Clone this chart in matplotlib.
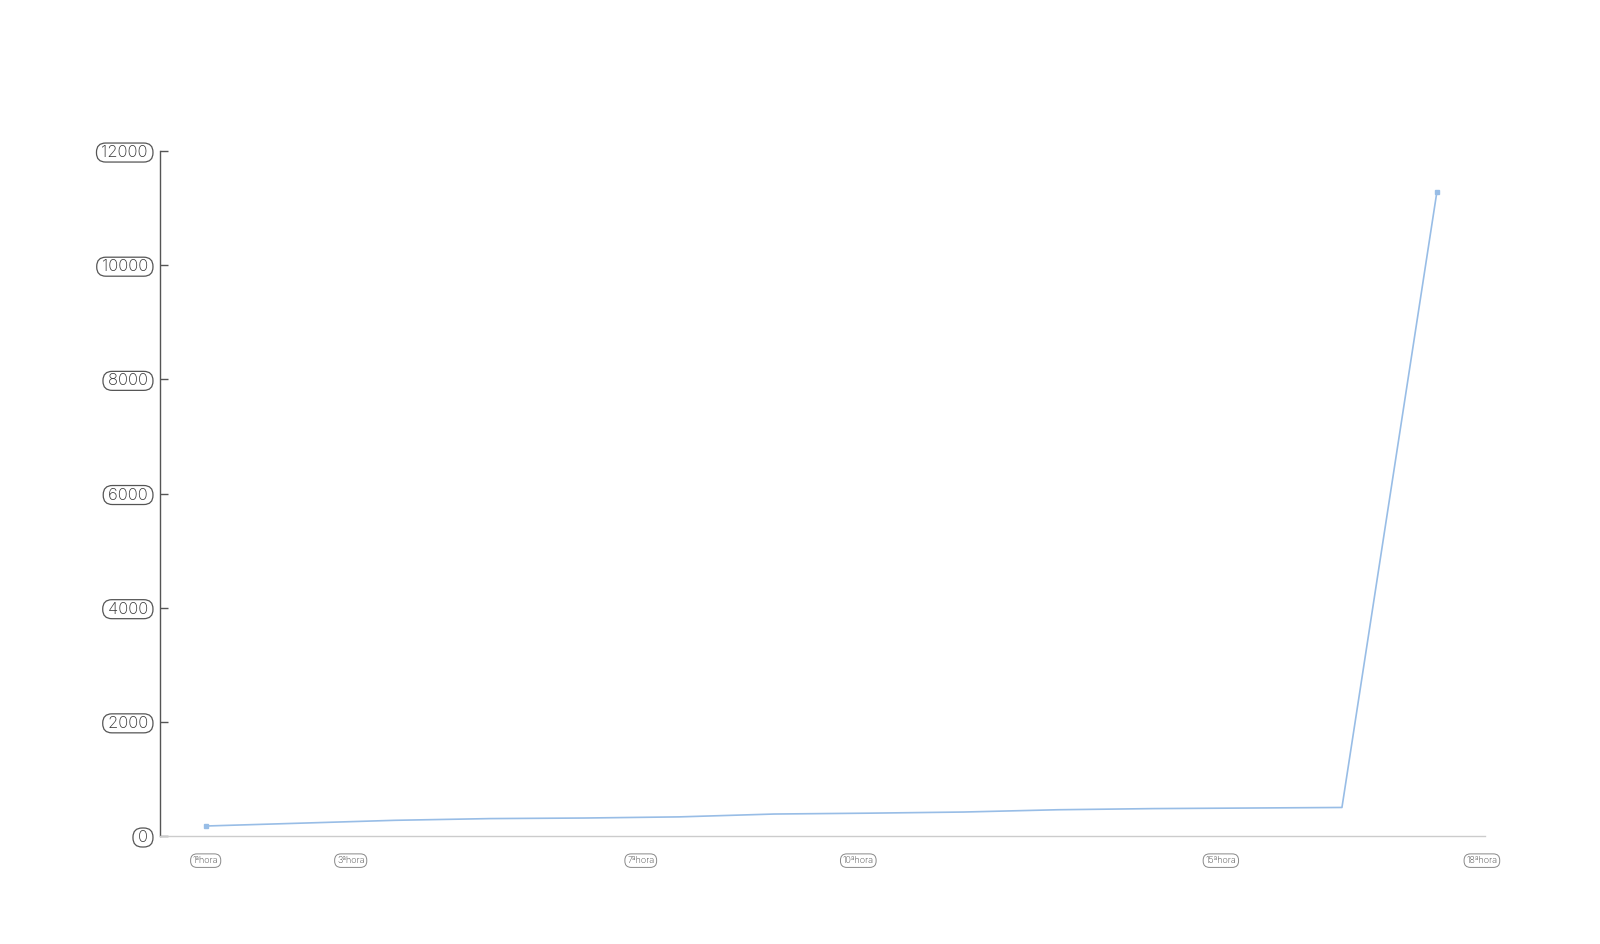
import matplotlib
matplotlib.use("Agg")
import matplotlib.pyplot as plt

# data
hours = [1.0, 2.31, 3.61, 4.92, 6.22, 7.53, 8.84, 10.14, 11.45, 12.75, 14.06, 15.37, 16.67, 17.98]
values = [175, 225, 275, 305, 315, 335, 385, 400, 420, 460, 480, 490, 500, 11290]

x_ticks = [1, 3, 7, 10, 15, 18.6]
x_labels = ["1ªhora", "3ªhora", "7ªhora", "10ªhora", "15ªhora", "18ªhora"]
y_ticks = [0, 2000, 4000, 6000, 8000, 10000, 12000]

plt.rcParams['font.family'] = ['Inter', 'DejaVu Sans']

fig = plt.figure(figsize=(16, 9.44), dpi=100)
ax = fig.add_axes([0.1, 0.1144, 0.828, 0.7256])

ax.plot(hours, values, color='#98bde6', lw=1.2, marker='s', markersize=3.5,
        markevery=[0, len(hours) - 1])

ax.set_xlim(0.37, 18.64)
ax.set_ylim(0, 12000)

for s in ['top', 'right']:
    ax.spines[s].set_visible(False)
ax.spines['left'].set_color('#555555')
ax.spines['left'].set_linewidth(1.0)
ax.spines['bottom'].set_color('#cccccc')
ax.spines['bottom'].set_linewidth(1.0)

ax.set_yticks(y_ticks)
ax.set_yticklabels(["\u2009%d\u2009" % v for v in y_ticks])
ax.tick_params(axis='y', direction='in', length=6, width=1, color='#555555',
               pad=6.5, labelsize=12, labelcolor='#333333')

ax.set_xticks(x_ticks)
ax.set_xticklabels(x_labels)
ax.tick_params(axis='x', length=0, pad=14.5, labelsize=6.5, labelcolor='#444444')

for lab in ax.get_yticklabels():
    lab.set_fontweight('light')
    lab.set_bbox(dict(boxstyle='round,pad=0.12,rounding_size=0.55', fc='white',
                      ec='#555555', lw=0.9))
for lab in ax.get_xticklabels():
    lab.set_fontweight('light')
    lab.set_bbox(dict(boxstyle='round,pad=0.25,rounding_size=0.7', fc='white',
                      ec='#888888', lw=0.7))

fig.savefig("out.png", dpi=100, facecolor='white')
